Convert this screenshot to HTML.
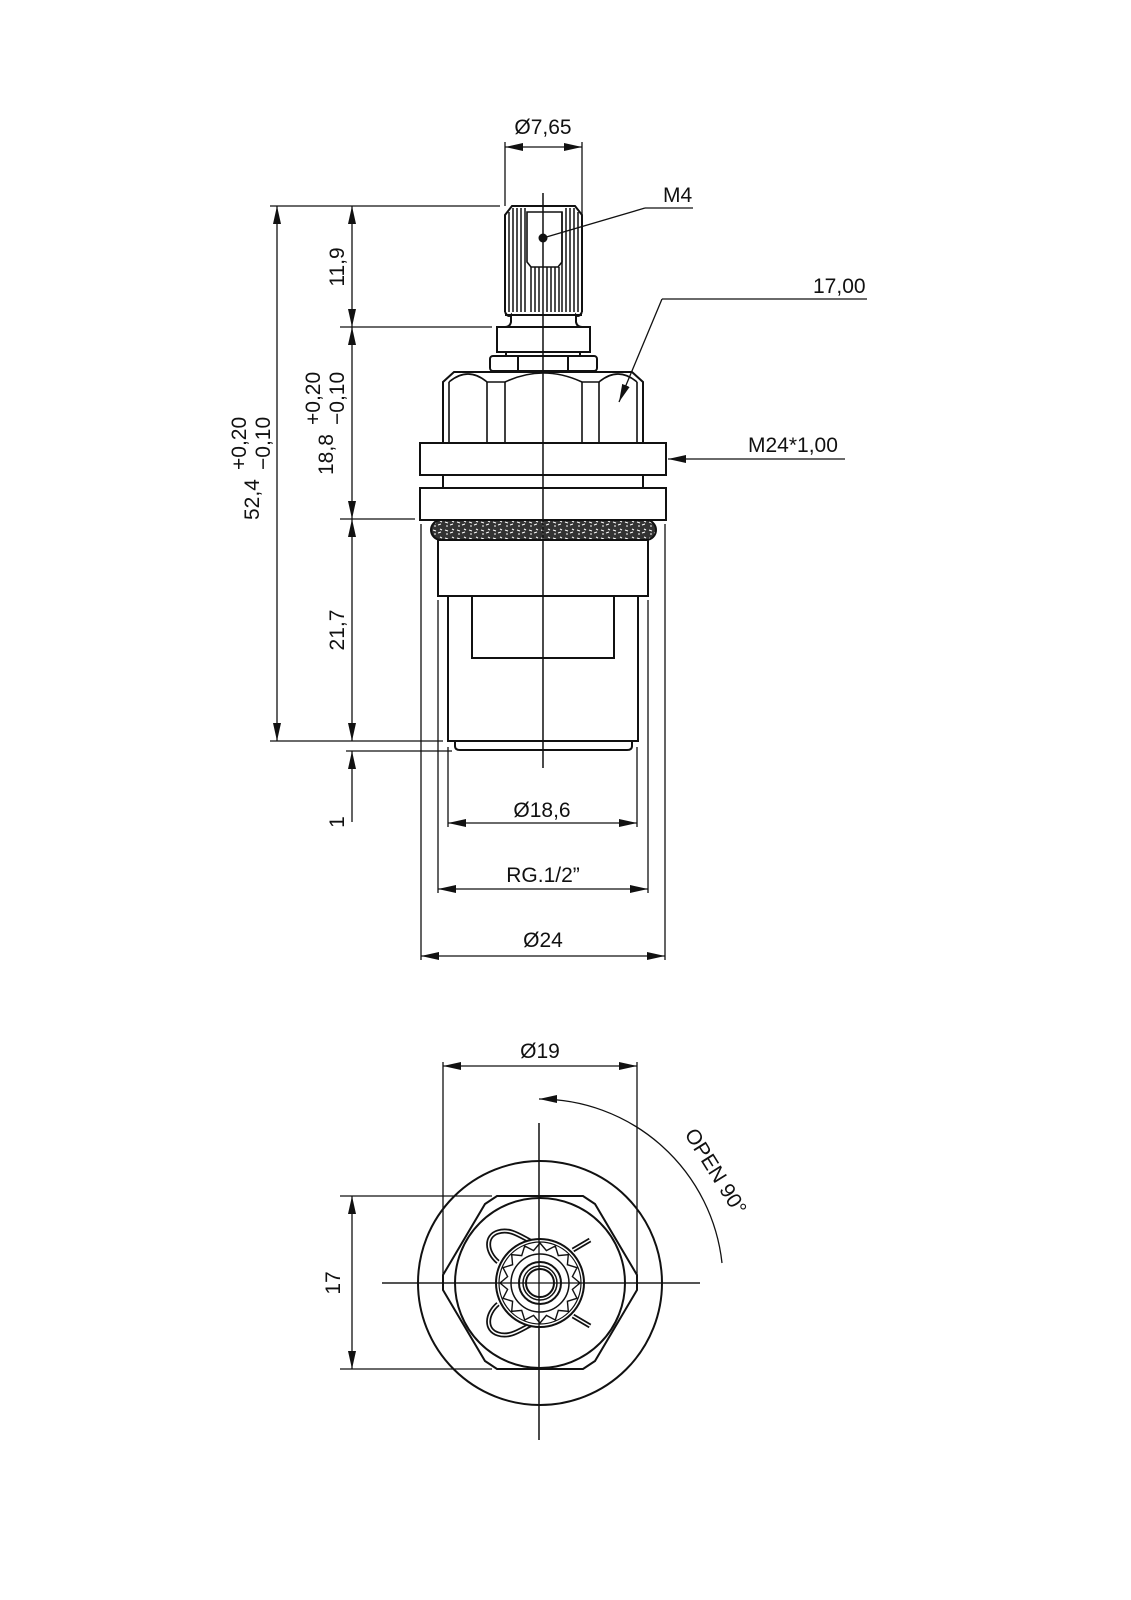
<!DOCTYPE html>
<html><head><meta charset="utf-8"><style>
html,body{margin:0;padding:0;background:#fff}
svg{display:block}
text{font-family:"Liberation Sans Narrow","Liberation Sans",sans-serif;font-size:21px;fill:#111}
</style></head><body>
<svg width="1131" height="1600" viewBox="0 0 1131 1600" xmlns="http://www.w3.org/2000/svg">
<defs>
<marker id="a" viewBox="0 0 18 8" refX="18" refY="4" markerWidth="18" markerHeight="8" markerUnits="userSpaceOnUse" orient="auto-start-reverse"><path d="M0,0 L18,4 L0,8 Z" fill="#111"/></marker>
<pattern id="tex" width="12" height="8" patternUnits="userSpaceOnUse"><rect width="12" height="8" fill="#333"/><path d="M1,2 l3,1 M6,5 l3,-1 M8,1 l2,1 M2,6 l2,0" stroke="#fff" stroke-width="1"/></pattern>
</defs>
<g stroke="#111" fill="none" stroke-width="1.3">
<line x1="543" y1="193" x2="543" y2="768"/>
<line x1="505" y1="142" x2="505" y2="206"/><line x1="582" y1="142" x2="582" y2="215"/>
<line x1="505" y1="147" x2="582" y2="147" marker-start="url(#a)" marker-end="url(#a)"/>
<line x1="645" y1="208" x2="693" y2="208"/><line x1="645" y1="208" x2="543" y2="238"/>
<line x1="662" y1="299" x2="867" y2="299"/><line x1="662" y1="299" x2="619" y2="402" marker-end="url(#a)"/>
<line x1="845" y1="459" x2="668" y2="459" marker-end="url(#a)"/>
<line x1="270" y1="206" x2="500" y2="206"/>
<line x1="340" y1="327" x2="492" y2="327"/>
<line x1="340" y1="519" x2="415" y2="519"/>
<line x1="270" y1="741" x2="443" y2="741"/>
<line x1="346" y1="751" x2="452" y2="751"/>
<line x1="277" y1="206" x2="277" y2="741" marker-start="url(#a)" marker-end="url(#a)"/>
<line x1="352" y1="206" x2="352" y2="327" marker-start="url(#a)" marker-end="url(#a)"/>
<line x1="352" y1="327" x2="352" y2="519" marker-start="url(#a)" marker-end="url(#a)"/>
<line x1="352" y1="519" x2="352" y2="741" marker-start="url(#a)" marker-end="url(#a)"/>
<line x1="352" y1="822" x2="352" y2="751" marker-end="url(#a)"/>
<line x1="448" y1="747" x2="448" y2="827"/><line x1="637" y1="747" x2="637" y2="827"/>
<line x1="448" y1="823" x2="637" y2="823" marker-start="url(#a)" marker-end="url(#a)"/>
<line x1="438" y1="600" x2="438" y2="893"/><line x1="648" y1="600" x2="648" y2="893"/>
<line x1="438" y1="889" x2="648" y2="889" marker-start="url(#a)" marker-end="url(#a)"/>
<line x1="421" y1="524" x2="421" y2="960"/><line x1="665" y1="524" x2="665" y2="960"/>
<line x1="421" y1="956" x2="665" y2="956" marker-start="url(#a)" marker-end="url(#a)"/>
</g>
<circle cx="543" cy="238" r="4.5" fill="#111"/>
<g stroke="#111" fill="none" stroke-width="2">
<path d="M505,312 L505,215 L512,206 L575,206 L582,215 L582,312"/>
<path d="M527,212 L562,212 L562,262 L558,267 L531,267 L527,262 Z" stroke-width="1.6"/>
<g stroke-width="1.5">
<path d="M509,212 V312 M513,208 V312 M517,208 V312 M521,208 V312 M525,208 V312 M562,212 V312 M566,208 V312 M570,208 V312 M574,208 V312 M578,212 V312 M531,267 V312 M535,267 V312 M539,267 V312 M547,267 V312 M551,267 V312 M555,267 V312 M559,267 V312"/>
</g>
<path d="M505,312 Q508,318 511,315 L511,322 Q510,327 505,327 M582,312 Q579,318 576,315 L576,322 Q577,327 582,327"/>
<line x1="505" y1="315" x2="582" y2="315"/>
<rect x="497" y="327" width="93" height="25"/>
<path d="M506,352 V356 M580,352 V356"/>
<rect x="490" y="356" width="107" height="15" rx="3"/>
<path d="M518,356 V371 M568,356 V371"/>
<path d="M443,443 V382 L454,372 H632 L643,382 V443"/>
<path d="M449,382 Q468,366 487,382 H505 Q543,364 582,382 H599 Q618,366 637,382" stroke-width="1.6"/>
<path d="M449,382 V443 M487,382 V443 M505,382 V443 M582,382 V443 M599,382 V443 M637,382 V443" stroke-width="1.6"/>
<rect x="420" y="443" width="246" height="32"/>
<path d="M443,475 V488 M643,475 V488"/>
<rect x="420" y="488" width="246" height="32"/>
<rect x="431" y="520" width="225" height="20" rx="10" fill="url(#tex)"/>
<rect x="438" y="540" width="210" height="56"/>
<path d="M448,596 V741 H638 V596"/>
<rect x="472" y="596" width="142" height="62"/>
<path d="M455,741 V746 Q455,750 460,750 H627 Q632,750 632,746 V741"/>
</g>
<line x1="543" y1="193" x2="543" y2="768" stroke="#111" stroke-width="1.3"/>
<text x="543" y="134" text-anchor="middle">Ø7,65</text>
<text x="663" y="202">M4</text>
<text x="813" y="293">17,00</text>
<text x="748" y="452">M24*1,00</text>
<text x="542" y="817" text-anchor="middle">Ø18,6</text>
<text x="543" y="882" text-anchor="middle">RG.1/2”</text>
<text x="543" y="947" text-anchor="middle">Ø24</text>
<text transform="translate(344,267) rotate(-90)" text-anchor="middle">11,9</text>
<text transform="translate(344,630) rotate(-90)" text-anchor="middle">21,7</text>
<text transform="translate(344,822) rotate(-90)" text-anchor="middle">1</text>
<text transform="translate(340,1283) rotate(-90)" text-anchor="middle">17</text>
<text transform="translate(259,520) rotate(-90)">52,4</text>
<text transform="translate(246,470) rotate(-90)" font-size="19">+0,20</text>
<text transform="translate(270,470) rotate(-90)" font-size="19">−0,10</text>
<text transform="translate(333,475) rotate(-90)">18,8</text>
<text transform="translate(320,425) rotate(-90)" font-size="19">+0,20</text>
<text transform="translate(344,425) rotate(-90)" font-size="19">−0,10</text>
<g stroke="#111" fill="none" stroke-width="1.3">
<line x1="443" y1="1062" x2="443" y2="1290"/><line x1="637" y1="1062" x2="637" y2="1290"/>
<line x1="443" y1="1066" x2="637" y2="1066" marker-start="url(#a)" marker-end="url(#a)"/>
<line x1="539" y1="1123" x2="539" y2="1440"/>
<line x1="382" y1="1283" x2="700" y2="1283"/>
<line x1="340" y1="1196" x2="492" y2="1196"/><line x1="340" y1="1369" x2="492" y2="1369"/>
<line x1="352" y1="1196" x2="352" y2="1369" marker-start="url(#a)" marker-end="url(#a)"/>
<path d="M722,1263 A184,184 0 0 0 539,1099" marker-end="url(#a)"/>
</g>
<g stroke="#111" fill="none" stroke-width="2">
<circle cx="540" cy="1283" r="122"/>
<polygon points="497,1196 583,1196 595,1204 637,1275 637,1290 595,1361 583,1369 497,1369 485,1361 443,1290 443,1275 485,1204"/>
<circle cx="540" cy="1283" r="85"/>
<path d="M498,1262 C486,1252 485,1236 498,1232 C510,1228 520,1236 532,1242" stroke-width="5"/>
<path d="M498,1262 C486,1252 485,1236 498,1232 C510,1228 520,1236 532,1242" stroke="#fff" stroke-width="1.5"/>
<path d="M498,1304 C486,1314 485,1330 498,1334 C510,1338 520,1330 532,1324" stroke-width="5"/>
<path d="M498,1304 C486,1314 485,1330 498,1334 C510,1338 520,1330 532,1324" stroke="#fff" stroke-width="1.5"/>
<path d="M573,1250 L590,1240 M573,1316 L590,1326" stroke-width="5"/>
<path d="M573,1250 L590,1240 M573,1316 L590,1326" stroke="#fff" stroke-width="1.5"/>
<circle cx="540" cy="1283" r="44" fill="#fff"/>
<circle cx="540" cy="1283" r="41" stroke-width="1.2"/>
<polygon stroke-width="1.4" points="580,1283 572.4,1289.4 577,1298.3 567.4,1301.3 568.3,1311.3 558.3,1310.4 555.3,1320 546.4,1315.4 540,1323 533.6,1315.4 524.7,1320 521.7,1310.4 511.7,1311.3 512.6,1301.3 503,1298.3 507.6,1289.4 500,1283 507.6,1276.6 503,1267.7 512.6,1264.7 511.7,1254.7 521.7,1255.6 524.7,1246 533.6,1250.6 540,1243 546.4,1250.6 555.3,1246 558.3,1255.6 568.3,1254.7 567.4,1264.7 577,1267.7 572.4,1276.6"/>
<circle cx="540" cy="1283" r="29" stroke-width="1.5"/>
<circle cx="540" cy="1283" r="21"/>
<circle cx="540" cy="1283" r="17" stroke-width="1.5"/>
<circle cx="540" cy="1283" r="14"/>
</g>
<line x1="539" y1="1123" x2="539" y2="1440" stroke="#111" stroke-width="1.3"/>
<line x1="382" y1="1283" x2="700" y2="1283" stroke="#111" stroke-width="1.3"/>
<text x="540" y="1058" text-anchor="middle">Ø19</text>
<text transform="translate(684,1134) rotate(58)" font-size="22">OPEN 90°</text>
</svg>
</body></html>
